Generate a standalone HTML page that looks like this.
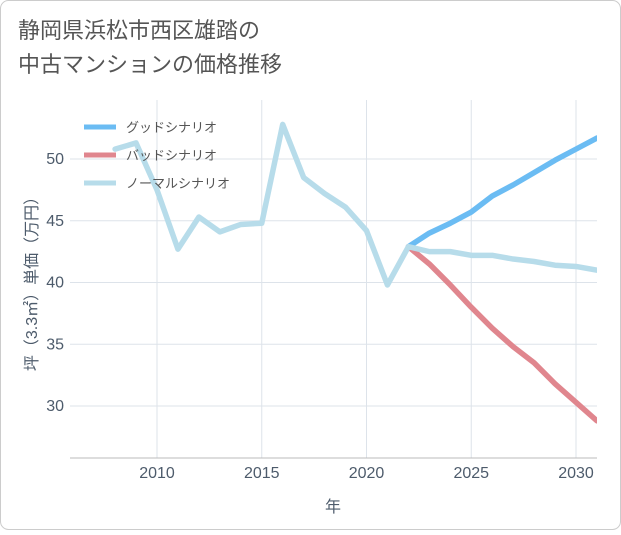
<!DOCTYPE html>
<html><head><meta charset="utf-8"><style>
body{margin:0;background:#fff;}
#wrap{position:relative;width:621px;height:530px;font-family:"Liberation Sans","Noto Sans CJK JP",sans-serif;}
</style></head><body>
<div id="wrap">
<svg id="svg" width="621" height="530" xmlns="http://www.w3.org/2000/svg">
<rect x="0.5" y="0.5" width="620" height="529" rx="8" fill="#fff" stroke="#ccc"/>
<text x="18" y="38" font-size="22" fill="#555" font-family="Liberation Sans, Noto Sans CJK JP, sans-serif">静岡県浜松市西区雄踏の</text>
<text x="18" y="72" font-size="22" fill="#555" font-family="Liberation Sans, Noto Sans CJK JP, sans-serif">中古マンションの価格推移</text>
<g id="grid"></g><g id="series"></g><g id="axes"></g><g id="legend"></g>
</svg>
</div>
<script>
const years=[2008,2009,2010,2011,2012,2013,2014,2015,2016,2017,2018,2019,2020,2021,2022,2023,2024,2025,2026,2027,2028,2029,2030,2031];
const normal=[50.8,51.3,47.5,42.7,45.3,44.1,44.7,44.8,52.8,48.5,47.2,46.1,44.2,39.8,42.9,42.5,42.5,42.2,42.2,41.9,41.7,41.4,41.3,41.0];
const fYears=[2022,2023,2024,2025,2026,2027,2028,2029,2030,2031];
const good=[42.9,44.0,44.8,45.7,47.0,47.9,48.9,49.9,50.8,51.7];
const bad=[42.9,41.5,39.8,38.0,36.3,34.8,33.5,31.8,30.3,28.8];
const xTicks=[2010,2015,2020,2025,2030];
const yTicks=[30,35,40,45,50];
const NS="http://www.w3.org/2000/svg";
const L=70,R=597,T=100,B=458;
const xs=y=>157+(y-2010)*20.95;
const ys=v=>159+(50-v)*12.35;
function mk(tag,attrs,parent){const e=document.createElementNS(NS,tag);for(const k in attrs)e.setAttribute(k,attrs[k]);parent.appendChild(e);return e;}
const grid=document.getElementById('grid'),axes=document.getElementById('axes'),ser=document.getElementById('series'),leg=document.getElementById('legend');
xTicks.forEach(t=>{const l=mk('line',{x1:xs(t),x2:xs(t),y1:T,y2:B,stroke:'#dde3ea'},grid);


const tx=mk('text',{x:xs(t),y:B+20,'font-size':16,fill:'#4d5b6b','text-anchor':'middle'},axes);tx.textContent=t;

});
yTicks.forEach(t=>{const l=mk('line',{x1:L,x2:R,y1:ys(t),y2:ys(t),stroke:'#dde3ea'},grid);


const tx=mk('text',{x:L-6,y:ys(t)+5,'font-size':16,fill:'#4d5b6b','text-anchor':'end'},axes);tx.textContent=t;

});
const ax=mk('line',{x1:L,x2:R,y1:B,y2:B,stroke:'#bbb'},axes);


const xt=mk('text',{x:333,y:512,'font-size':16,fill:'#4d5b6b','text-anchor':'middle'},axes);xt.textContent='年';


const yt=mk('text',{x:0,y:0,'font-size':16,fill:'#4d5b6b','text-anchor':'middle',transform:'translate(37,280) rotate(-90)'},axes);yt.textContent='坪（3.3㎡）単価（万円）';


function line(xa,va,color,name){const p=mk('polyline',{points:xa.map((y,i)=>xs(y)+','+ys(va[i])).join(' '),fill:'none',stroke:color,'stroke-width':5.5,'stroke-linejoin':'round','stroke-linecap':'round'},ser);

}
const clip=mk('clipPath',{id:'c'},document.getElementById('svg'));mk('rect',{x:L,y:T,width:R-L,height:B-T},clip);ser.setAttribute('clip-path','url(#c)');
line(fYears,bad,'#e0868e','bad-scenario-line');
line(fYears,good,'#6bbcf3','good-scenario-line');
line(years,normal,'#b7dcea','normal-scenario-line');
[['グッドシナリオ','#6bbcf3'],['バッドシナリオ','#e0868e'],['ノーマルシナリオ','#b7dcea']].forEach((d,i)=>{const y=127+i*28;
const l=mk('line',{x1:84,x2:116,y1:y,y2:y,stroke:d[1],'stroke-width':5},leg);


const t=mk('text',{x:126,y:y+5,'font-size':13,fill:'#555'},leg);t.textContent=d[0];

});
</script>
</body></html>
